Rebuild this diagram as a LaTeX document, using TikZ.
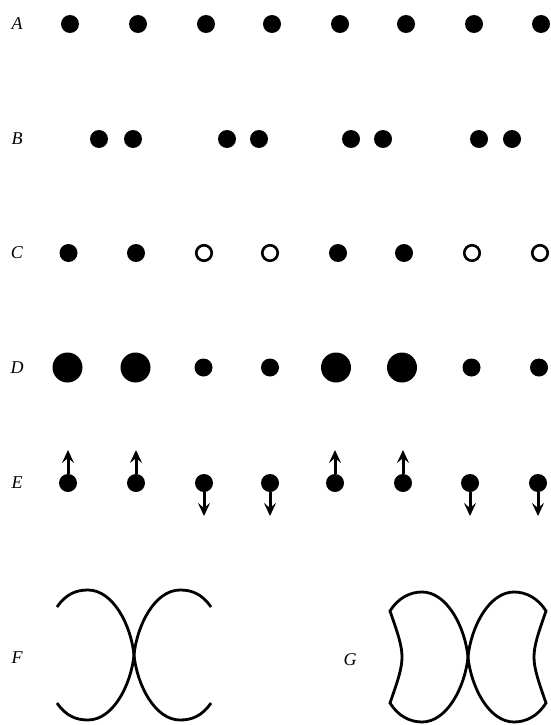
\documentclass[tikz,border=0pt]{standalone}
\usepackage{fontspec}
\setmainfont{Liberation Serif}
\usetikzlibrary{arrows.meta}

\begin{document}
\begin{tikzpicture}[x=1pt, y=1pt,
  lbl/.style={font=\fontsize{18}{21}\selectfont\itshape, inner sep=0pt},
  bead/.style={circle, fill=black, inner sep=0pt, minimum size=18pt},
  bigbead/.style={bead, minimum size=30pt},
  hollowbead/.style={circle, draw=black, line width=2.6pt, fill=white,
    inner sep=0pt, minimum size=15.5pt},
  spinarrow/.style={line width=3pt,
    -{Stealth[length=13pt, width=12pt, inset=5pt]}},
  lens/.style={line width=2.8pt, line join=miter}]
  \useasboundingbox (0,0) rectangle (550,-725);

  % row labels
  \foreach \r/\y in {A/-24, B/-139, C/-253, D/-368, E/-483, F/-658} {
    \node[lbl] (lab\r) at (17,\y) {\r};
  }
  \node[lbl] (labG) at (350,-660) {G};

  % A: even spacing
  \foreach \x [count=\k] in {70,138,206,272,340,406,474,541} {
    \node[bead] (a\k) at (\x,-24) {};
  }
  % B: pairs
  \foreach \x [count=\k] in {99,133,227,259,351,383,479,512} {
    \node[bead] (b\k) at (\x,-139) {};
  }
  % C: filled and hollow
  \foreach \x/\s [count=\k] in {68.5/bead, 136/bead, 204/hollowbead,
      270/hollowbead, 338/bead, 404/bead, 472/hollowbead, 540/hollowbead} {
    \node[\s] (c\k) at (\x,-253) {};
  }
  % D: big and small
  \foreach \x/\s [count=\k] in {67.5/bigbead, 135.5/bigbead, 203.5/bead,
      270/bead, 336/bigbead, 402/bigbead, 471.5/bead, 539/bead} {
    \node[\s] (d\k) at (\x,-367.5) {};
  }
  % E: up and down
  \foreach \x/\d [count=\k] in {68/1, 136/1, 204/-1, 270/-1,
      335/1, 403/1, 470/-1, 538/-1} {
    \node[bead] (e\k) at (\x,-483) {};
    \coordinate (t\k) at (\x,-483+33*\d);
    \draw[spinarrow] (e\k) -- (t\k);
  }

  % F: two open curves touching at a point
  \draw[lens] (57,-607) .. controls (66,-594) and (76,-590) .. (88,-590)
    .. controls (113,-590) and (131,-625) .. (134,-655)
    .. controls (131,-685) and (113,-720) .. (88,-720)
    .. controls (76,-720) and (66,-716) .. (57,-703);
  \draw[lens] (211,-607) .. controls (202,-594) and (192,-590) .. (180,-590)
    .. controls (155,-590) and (137,-625) .. (134,-655)
    .. controls (137,-685) and (155,-720) .. (180,-720)
    .. controls (192,-720) and (202,-716) .. (211,-703);

  % G: two closed lobes
  \draw[lens] (390,-611) .. controls (398,-598) and (410,-592) .. (422,-592)
    .. controls (447,-592) and (465,-627) .. (468,-657)
    .. controls (465,-687) and (447,-722) .. (422,-722)
    .. controls (410,-722) and (398,-716) .. (390,-703)
    .. controls (406,-657) .. cycle;
  \draw[lens] (546,-611) .. controls (538,-598) and (526,-592) .. (514,-592)
    .. controls (489,-592) and (471,-627) .. (468,-657)
    .. controls (471,-687) and (489,-722) .. (514,-722)
    .. controls (526,-722) and (538,-716) .. (546,-703)
    .. controls (530,-657) .. cycle;
\end{tikzpicture}
\end{document}
